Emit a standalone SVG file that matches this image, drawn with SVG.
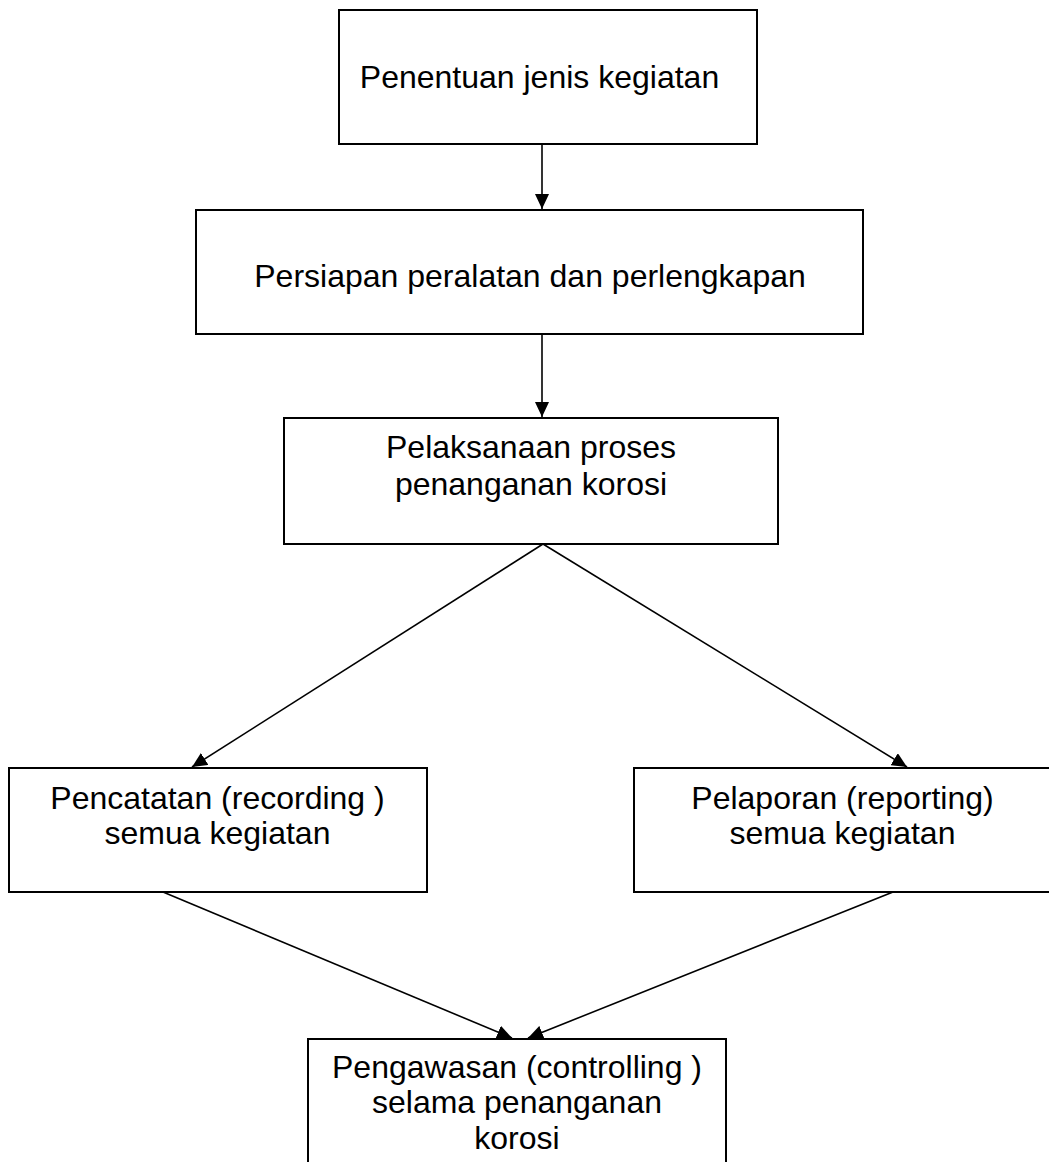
<svg xmlns="http://www.w3.org/2000/svg" width="1049" height="1162" viewBox="0 0 1049 1162">
  <style>
    .box { fill: #ffffff; stroke: #000000; stroke-width: 2; }
    .lbl { font-family: "Liberation Sans", Arial, sans-serif; font-size: 32px; fill: #000000; text-anchor: middle; }
    .edge { stroke: #000000; stroke-width: 1.6; fill: none; marker-end: url(#arrow); }
  </style>
  <defs>
    <marker id="arrow" markerUnits="userSpaceOnUse" markerWidth="16" markerHeight="14" refX="15" refY="7" orient="auto">
      <path d="M0,0 L15,7 L0,14 z" fill="#000000"/>
    </marker>
  </defs>
  <rect width="1049" height="1162" fill="#ffffff"/>

  <g id="connectors">
    <line class="edge" x1="542" y1="144" x2="542" y2="209"/>
    <line class="edge" x1="542" y1="334" x2="542" y2="417"/>
    <line class="edge" x1="543" y1="544" x2="192" y2="767"/>
    <line class="edge" x1="543" y1="544" x2="907" y2="767"/>
    <line class="edge" x1="163" y1="892" x2="512" y2="1038"/>
    <line class="edge" x1="893" y1="892" x2="528" y2="1038"/>
  </g>

  <g id="node-penentuan">
    <rect class="box" x="339" y="10" width="418" height="134"/>
    <text class="lbl" x="539.5" y="88">Penentuan jenis kegiatan</text>
  </g>

  <g id="node-persiapan">
    <rect class="box" x="196" y="210" width="667" height="124"/>
    <text class="lbl" x="530" y="287">Persiapan peralatan dan perlengkapan</text>
  </g>

  <g id="node-pelaksanaan">
    <rect class="box" x="284" y="418" width="494" height="126"/>
    <text class="lbl" x="531" y="458">Pelaksanaan proses</text>
    <text class="lbl" x="531" y="495">penanganan korosi</text>
  </g>

  <g id="node-pencatatan">
    <rect class="box" x="9" y="768" width="418" height="124"/>
    <text class="lbl" x="217.5" y="809">Pencatatan (recording )</text>
    <text class="lbl" x="217.5" y="844">semua kegiatan</text>
  </g>

  <g id="node-pelaporan">
    <rect class="box" x="634" y="768" width="418" height="124"/>
    <text class="lbl" x="842.5" y="809">Pelaporan (reporting)</text>
    <text class="lbl" x="842.5" y="844">semua kegiatan</text>
  </g>

  <g id="node-pengawasan">
    <rect class="box" x="308" y="1039" width="418" height="160"/>
    <text class="lbl" x="517" y="1078">Pengawasan (controlling )</text>
    <text class="lbl" x="517" y="1113">selama penanganan</text>
    <text class="lbl" x="517" y="1149">korosi</text>
  </g>
</svg>
